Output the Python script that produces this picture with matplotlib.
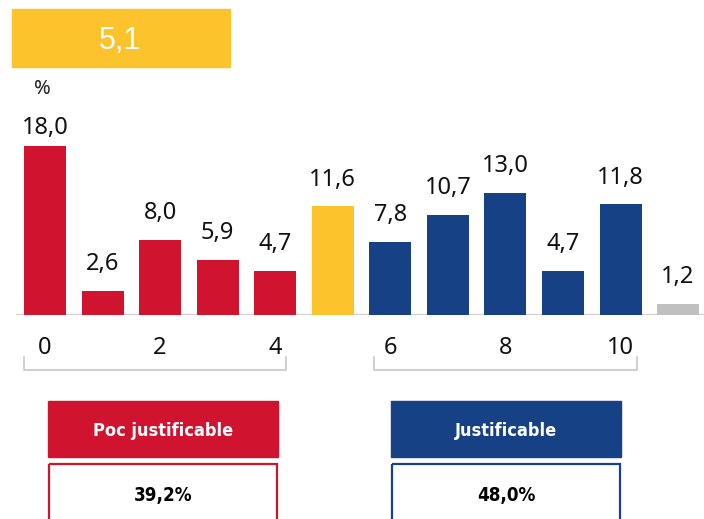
import matplotlib
matplotlib.use('agg')
import matplotlib.pyplot as plt
from matplotlib.patches import Rectangle

# Data
scores = ['0', '1', '2', '3', '4', '5', '6', '7', '8', '9', '10', 'NS/NC']
values = [18.0, 2.6, 8.0, 5.9, 4.7, 11.6, 7.8, 10.7, 13.0, 4.7, 11.8, 1.2]
shown_ticks = ['0', '2', '4', '6', '8', '10']
mean_score = 5.1
groups = ['Poc justificable', 'Justificable']
group_totals = [39.2, 48.0]

RED = '#D0132F'
BLUE = '#164285'
YELLOW = '#FCC32D'
GRAY = '#C0C0C0'
LINE = '#D0D0D0'


def fmt(v):
    return ('%.1f' % v).replace('.', ',')


def bar_color(s):
    if s == 'NS/NC':
        return GRAY
    n = int(s)
    if n < 5:
        return RED
    if n == 5:
        return YELLOW
    return BLUE


num_font = ['Noto Sans', 'DejaVu Sans']
box_font = ['DejaVu Sans']

fig = plt.figure(figsize=(7.04, 5.19), dpi=100)
W, H = 704, 519

# bar axes: baseline at y=315px, 9.39 px per unit
ax = fig.add_axes([16.2 / W, (H - 315) / H, (704 - 16.2) / W, 187.8 / H])
x = list(range(len(scores)))
ax.bar(x, values, width=0.73, color=[bar_color(s) for s in scores], zorder=2)
ax.set_xlim(-0.5, 11.45)
ax.set_ylim(0, 20)
ax.axis('off')
ax.axhline(0, color=LINE, lw=1.6, zorder=1)

for i, v in enumerate(values):
    off = 13.3 if v == max(values) else 19.1
    ax.annotate(fmt(v), (i, v), xytext=(0, off), textcoords='offset points',
                ha='center', va='center', fontsize=17, family=num_font,
                color='#111111', annotation_clip=False)

for s in shown_ticks:
    ax.annotate(s, (scores.index(s), 0), xytext=(0, -23.5), textcoords='offset points',
                ha='center', va='center', fontsize=17, family=num_font,
                color='#111111', annotation_clip=False)

# brackets under the ticks
for x0, x1 in [(-0.365, 4.19), (5.72, 10.29)]:
    ax.plot([x0, x0, x1, x1], [-4.47, -5.86, -5.86, -4.47], color='#C4C4C4',
            lw=1.1, clip_on=False)

# overlay in pixel coordinates for the boxes
ov = fig.add_axes([0, 0, 1, 1])
ov.set_xlim(0, W)
ov.set_ylim(H, 0)
ov.axis('off')
ov.patch.set_alpha(0)

ov.add_patch(Rectangle((12, 9), 218, 58, color=YELLOW))
ov.text(120, 41, fmt(mean_score), ha='center', va='center', color='white',
        fontsize=22, family=['Liberation Sans', 'DejaVu Sans'])
ov.text(42, 89, '%', ha='center', va='center', fontsize=14.5, family=num_font,
        color='#222222')

box_x = [48, 391]
box_col = [RED, BLUE]
for bx, c, name, tot in zip(box_x, box_col, groups, group_totals):
    ov.add_patch(Rectangle((bx, 401), 230, 56, color=c))
    ov.text(bx + 115, 431, name, ha='center', va='center', color='white',
            fontsize=13, fontweight='bold', fontstretch='condensed', family=box_font)
    ov.add_patch(Rectangle((bx + 1, 464), 228, 70, fill=False, edgecolor=c, lw=1.6,
                           clip_on=False))
    ov.text(bx + 115, 495, fmt(tot) + '%', ha='center', va='center', color='black',
            fontsize=13.5, fontweight='bold', fontstretch='condensed', family=box_font)

plt.savefig('out.png', dpi=100)
